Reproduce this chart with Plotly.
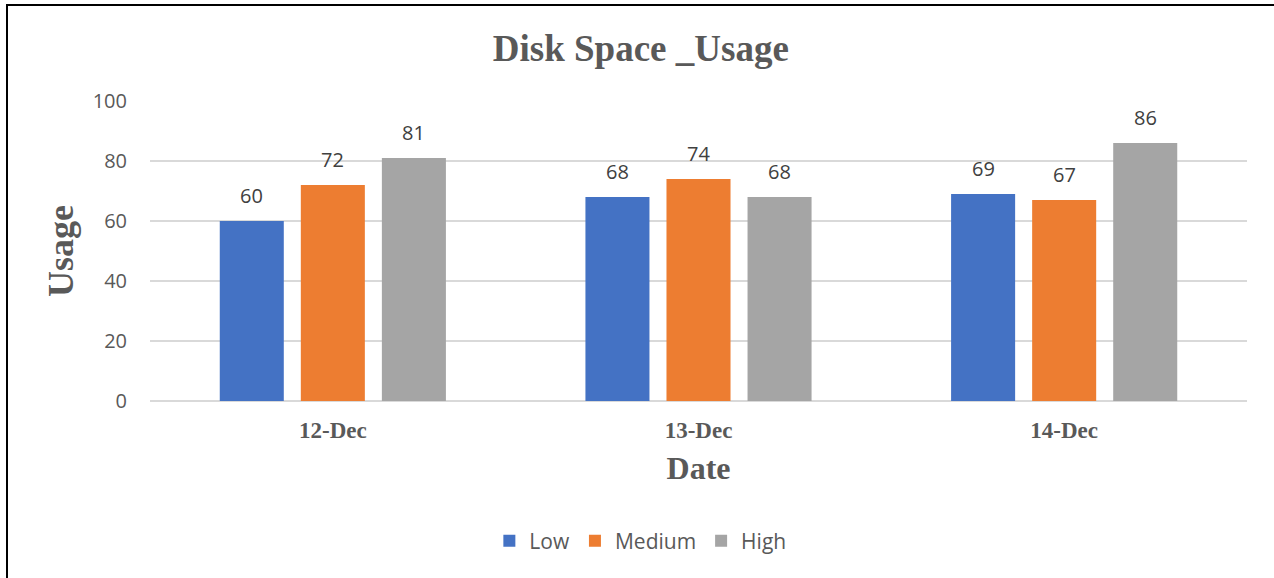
import plotly.graph_objects as go

dates = ["12-Dec", "13-Dec", "14-Dec"]
low = [60, 68, 69]
medium = [72, 74, 67]
high = [81, 68, 86]

series = [
    ("Low", low, "#4472C4"),
    ("Medium", medium, "#ED7D31"),
    ("High", high, "#A5A5A5"),
]

sans = "Open Sans, Liberation Sans, sans-serif"
serif = "Liberation Serif, Times New Roman, serif"

# horizontal spacing between neighbouring bars inside a date group (px)
slot_px = 81

fig = go.Figure()
for j, (name, vals, color) in enumerate(series):
    fig.add_trace(go.Bar(
        x=dates, y=vals, name=name,
        marker=dict(color=color, line=dict(width=0)),
    ))
    # value labels floating above each bar
    for d, v in zip(dates, vals):
        fig.add_annotation(
            x=d, y=v, text=str(v), showarrow=False,
            xshift=(j - 1) * slot_px, yshift=10, yanchor="bottom",
            font=dict(family=sans, size=20, color="#404040"),
        )

fig.update_layout(
    width=1274, height=578,
    margin=dict(l=150, r=27, t=101, b=177),
    paper_bgcolor="white", plot_bgcolor="white",
    barmode="group", bargap=0.335, bargroupgap=0.21,
    title=dict(text="<b>Disk Space _Usage</b>", x=0.503, xanchor="center",
               y=1 - 48 / 578, yanchor="middle",
               font=dict(family=serif, size=37, color="#595959")),
    legend=dict(orientation="h", x=0.447, xanchor="center",
                y=-(541 - 401) / 300, yanchor="middle",
                font=dict(family=sans, size=21, color="#595959"),
                itemwidth=30, traceorder="normal"),
    showlegend=True,
)
fig.update_xaxes(
    showgrid=False, showline=False, ticks="",
    tickfont=dict(family=serif, size=23, color="#595959"),
    tickprefix="<b>", ticksuffix="</b>", ticklabelstandoff=13,
    title=dict(text="<b>Date</b>", font=dict(family=serif, size=32, color="#595959"), standoff=14),
)
fig.update_yaxes(
    range=[0, 100], dtick=20, showgrid=True, gridcolor="#D9D9D9", gridwidth=2,
    zeroline=True, zerolinecolor="#D9D9D9", zerolinewidth=2,
    tickfont=dict(family=sans, size=20, color="#595959"), ticklabelstandoff=22,
    title=dict(text="<b>Usage</b>", font=dict(family=serif, size=36, color="#595959"), standoff=8),
)
fig.add_shape(type="rect", xref="paper", yref="paper",
              x0=-(150 - 7) / 1097, x1=1.1, y0=-0.7, y1=1 + (101 - 5) / 300,
              line=dict(color="black", width=2), layer="above")

fig.write_html("out.html")
